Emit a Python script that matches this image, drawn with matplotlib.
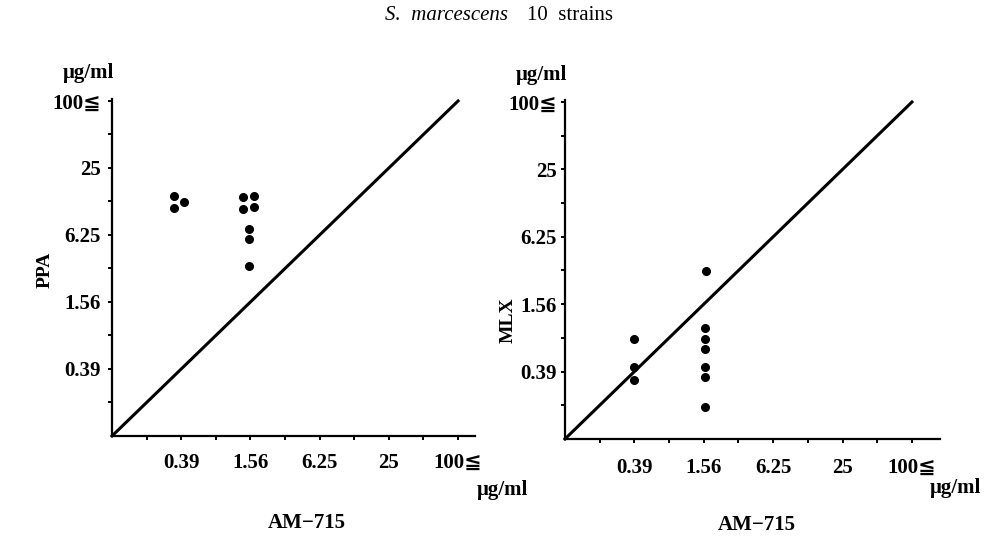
import numpy as np
import matplotlib.pyplot as plt

plt.rcParams['font.family'] = ['Liberation Serif', 'DejaVu Sans']

# concentration labels on both axes, at two-fold dilution steps
conc_labels = ['0.39', '1.56', '6.25', '25', '100≦']
label_steps = [2, 4, 6, 8, 10]

# positions, in dilution steps (0 = origin, 10 = 100 ug/ml)
# left panel: AM-715 (x) vs PPA (y)
ppa_x = [1.79, 2.09, 1.79, 3.78, 4.11, 3.79, 4.11, 3.96, 3.96, 3.96]
ppa_y = [7.17, 6.99, 6.80, 7.14, 7.17, 6.78, 6.83, 6.18, 5.87, 5.07]

# right panel: AM-715 (x) vs MLX (y)
mlx_x = [1.99, 1.99, 2.00, 4.06, 4.04, 4.04, 4.04, 4.04, 4.04, 4.04]
mlx_y = [2.97, 2.15, 1.75, 4.99, 3.28, 2.96, 2.67, 2.13, 1.83, 0.96]

W, H = 1001, 537
fig = plt.figure(figsize=(W / 100, H / 100), dpi=100)


def px(x, y):
    return x / W, 1 - y / H


def panel(rect, xs, ys, xmax, xpad, ypad):
    ax = fig.add_axes(rect)
    ax.patch.set_alpha(0)
    ax.plot([0, 10], [0, 10], color='black', lw=2.2, clip_on=False)
    ax.plot(xs, ys, 'o', color='black', ms=5.5, clip_on=False)
    ax.set_xlim(0, xmax)
    ax.set_ylim(0, 10.05)
    ax.spines[['top', 'right']].set_visible(False)
    for s in ['left', 'bottom']:
        ax.spines[s].set_linewidth(1.6)
    ticks = np.arange(1, 11)
    labels = [conc_labels[label_steps.index(t)] if t in label_steps else '' for t in ticks]
    ax.set_xticks(ticks)
    ax.set_yticks(ticks)
    ax.set_xticklabels(labels, fontweight='bold')
    ax.set_yticklabels(labels, fontweight='bold')
    ax.tick_params(direction='out', length=3, width=1.4, labelsize=15)
    ax.tick_params(axis='x', pad=xpad)
    ax.tick_params(axis='y', pad=ypad)
    return ax


ax1 = panel([0.1119, 0.1881, 0.363, 0.627], ppa_x, ppa_y, 10.5, 9, 5)
ax2 = panel([0.5644, 0.1825, 0.3744, 0.6307], mlx_x, mlx_y, 10.8, 10.5, 3)

fig.text(*px(385, 15), 'S.  marcescens', style='italic', fontsize=15, ha='left', va='center')
fig.text(*px(527, 15), '10  strains', fontsize=15, ha='left', va='center')

for (x, y) in [(88, 73), (541, 75), (502, 490), (955, 488)]:
    fig.text(*px(x, y), 'μg/ml', fontweight='bold', fontsize=15, ha='center', va='center')

fig.text(*px(307, 523), 'AM−715', fontweight='bold', fontsize=15, ha='center', va='center')
fig.text(*px(757, 525), 'AM−715', fontweight='bold', fontsize=15, ha='center', va='center')
fig.text(*px(45, 270), 'PPA', fontweight='bold', fontsize=14, rotation=90, ha='center', va='center')
fig.text(*px(508, 320), 'MLX', fontweight='bold', fontsize=14, rotation=90, ha='center', va='center')

fig.savefig('out.png', dpi=100)
